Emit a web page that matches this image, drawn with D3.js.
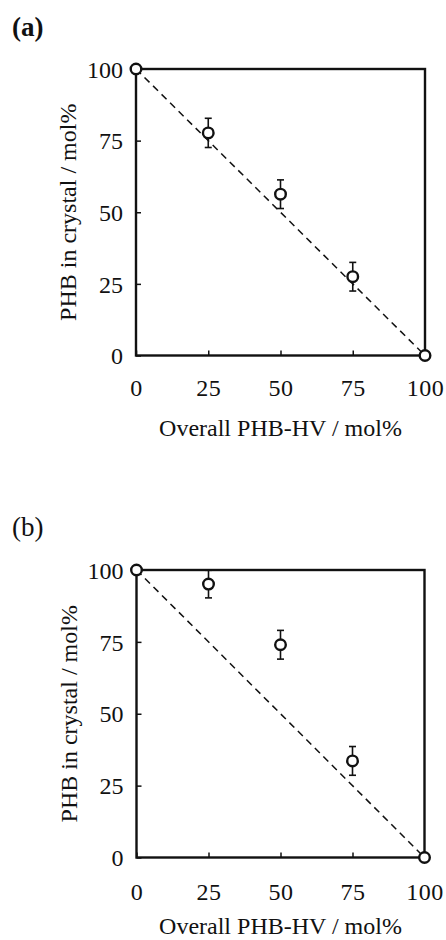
<!DOCTYPE html>
<html>
<head>
<meta charset="utf-8">
<script src="https://cdn.jsdelivr.net/npm/d3@7"></script>
<style>
  html, body { margin: 0; padding: 0; background: #fff; }
  svg text { font-family: "Liberation Serif", "Times New Roman", serif; fill: #111; }
</style>
</head>
<body>
<svg id="chart" width="446" height="940"></svg>
<script>
// data
const panelLabels = ["(a)", "(b)"];
const overallHV = [0, 25, 50, 75, 100];
const crystalA = [100, 77.7, 56.3, 27.5, 0];
const crystalB = [100, 95.1, 74.0, 33.6, 0];
const errorA = [0, 5.1, 5.0, 5.0, 0];
const errorB = [0, 4.8, 5.0, 5.0, 0];
const xTicks = [0, 25, 50, 75, 100];
const yTicks = [0, 25, 50, 75, 100];
const idealLine = [[0, 100], [100, 0]];

const xTitle = "Overall PHB-HV / mol%";
const yTitle = "PHB in crystal / mol%";

const svg = d3.select("#chart");

// panel frames (position of plot box in the page)
const panels = [
  { label: panelLabels[0], bold: true, ys: crystalA, errs: errorA, left: 136, top: 69, w: 289, h: 286.5,
    labelY: 36, tickY: 40, titleY: 80 },
  { label: panelLabels[1], bold: false, ys: crystalB, errs: errorB, left: 136.5, top: 570, w: 288, h: 287.5,
    labelY: 536, tickY: 42.5, titleY: 76 }
];

panels.forEach(p => {
  const x = d3.scaleLinear().domain([0, 100]).range([0, p.w]);
  const y = d3.scaleLinear().domain([0, 100]).range([p.h, 0]);

  // panel letter
  svg.append("text")
    .attr("x", 12)
    .attr("y", p.labelY)
    .attr("font-size", 27)
    .attr("font-weight", p.bold ? "bold" : "normal")
    .text(p.label);

  const g = svg.append("g").attr("transform", `translate(${p.left},${p.top})`);

  // inward ticks
  const xAxis = g.append("g")
    .attr("transform", `translate(0,${p.h})`)
    .call(d3.axisBottom(x).tickValues(xTicks).tickSize(-5).tickFormat(d3.format("d")));
  xAxis.select(".domain").remove();
  xAxis.selectAll("line").attr("stroke", "#111").attr("stroke-width", 1.5);
  xAxis.selectAll("text")
    .attr("y", p.tickY).attr("dy", null)
    .attr("font-size", 24)
    .attr("letter-spacing", 0.5)
    .attr("fill", "#111");

  const yAxis = g.append("g")
    .call(d3.axisLeft(y).tickValues(yTicks).tickSize(-5).tickFormat(d3.format("d")));
  yAxis.select(".domain").remove();
  yAxis.selectAll("line").attr("stroke", "#111").attr("stroke-width", 1.5);
  yAxis.selectAll("text")
    .attr("x", -13).attr("dy", "0.34em")
    .attr("font-size", 24)
    .attr("fill", "#111");

  // frame
  g.append("rect")
    .attr("x", 0).attr("y", 0)
    .attr("width", p.w).attr("height", p.h)
    .attr("fill", "none")
    .attr("stroke", "#111")
    .attr("stroke-width", 2.4);

  // axis titles
  g.append("text")
    .attr("x", p.w / 2)
    .attr("y", p.h + p.titleY)
    .attr("text-anchor", "middle")
    .attr("font-size", 24)
    .text(xTitle);

  g.append("text")
    .attr("transform", `translate(${-60},${p.h / 2}) rotate(-90)`)
    .attr("text-anchor", "middle")
    .attr("font-size", 24)
    .text(yTitle);

  // dashed guide line
  g.append("path")
    .datum(idealLine)
    .attr("d", d3.line().x(d => x(d[0])).y(d => y(d[1])))
    .attr("fill", "none")
    .attr("stroke", "#111")
    .attr("stroke-width", 1.5)
    .attr("stroke-dasharray", "7,5");

  const pts = overallHV.map((v, i) => ({ x: v, y: p.ys[i], e: p.errs[i] }));

  // error bars
  const eb = g.selectAll(".err")
    .data(pts.filter(d => d.e > 0))
    .enter().append("g")
    .attr("class", "err")
    .attr("stroke", "#111")
    .attr("stroke-width", 1.6);
  eb.append("line")
    .attr("x1", d => x(d.x)).attr("x2", d => x(d.x))
    .attr("y1", d => y(d.y + d.e)).attr("y2", d => y(d.y - d.e));
  eb.append("line")
    .attr("x1", d => x(d.x) - 3.5).attr("x2", d => x(d.x) + 3.5)
    .attr("y1", d => y(d.y + d.e)).attr("y2", d => y(d.y + d.e));
  eb.append("line")
    .attr("x1", d => x(d.x) - 3.5).attr("x2", d => x(d.x) + 3.5)
    .attr("y1", d => y(d.y - d.e)).attr("y2", d => y(d.y - d.e));

  // open circle markers
  g.selectAll(".pt")
    .data(pts)
    .enter().append("circle")
    .attr("class", "pt")
    .attr("cx", d => x(d.x))
    .attr("cy", d => y(d.y))
    .attr("r", 5.3)
    .attr("fill", "#fff")
    .attr("stroke", "#111")
    .attr("stroke-width", 2.4);
});
</script>
</body>
</html>
